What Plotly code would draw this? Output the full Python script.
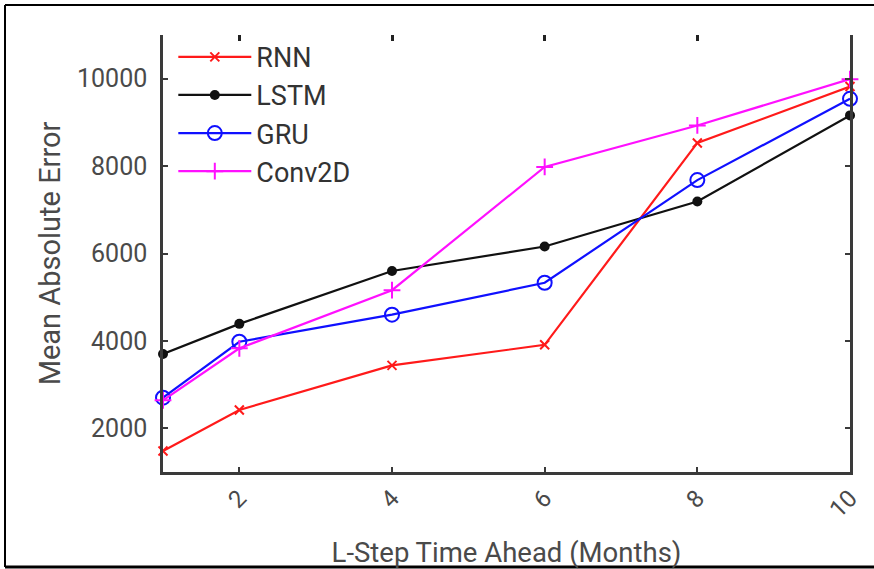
import plotly.graph_objects as go

steps = [1, 2, 4, 6, 8, 10]
rnn = [1480, 2420, 3440, 3910, 8530, 9820]
lstm = [3700, 4390, 5600, 6160, 7190, 9160]
gru = [2700, 3980, 4600, 5330, 7680, 9540]
conv2d = [2640, 3830, 5160, 7980, 8930, 9990]

x_ticks = [2, 4, 6, 8, 10]
top_ticks = [2, 4, 6, 8]
y_ticks = [2000, 4000, 6000, 8000, 10000]

FONT = "Roboto"
TXT = "#4a4a4a"
AX = "#3a3a3a"

fig = go.Figure()
series = [
    ("RNN", rnn, "#ff1a1a", dict(symbol="x-thin", size=9, line=dict(width=2, color="#ff1a1a"))),
    ("LSTM", lstm, "#111111", dict(symbol="circle", size=10, color="#111111")),
    ("GRU", gru, "#1010ff", dict(symbol="circle-open", size=14, line=dict(width=2, color="#1010ff"))),
    ("Conv2D", conv2d, "#ff10ff", dict(symbol="cross-thin", size=12, line=dict(width=2, color="#ff10ff"))),
]
for name, vals, col, mk in series:
    fig.add_trace(go.Scatter(
        x=steps, y=vals, name=name, mode="lines+markers",
        line=dict(color=col, width=2.2), marker=mk, cliponaxis=False,
    ))

# invisible trace so the top (mirror-tick) axis is drawn
fig.add_trace(go.Scatter(x=steps, y=rnn, xaxis="x2", opacity=0,
                         showlegend=False, hoverinfo="skip", mode="lines"))

fig.update_layout(
    width=874, height=569,
    margin=dict(l=163, r=24, t=35, b=97),
    paper_bgcolor="white", plot_bgcolor="white",
    font=dict(family=FONT, size=25, color=TXT),
    showlegend=True,
    legend=dict(
        x=0.015, y=1.005, xanchor="left", yanchor="top",
        bgcolor="rgba(255,255,255,0)", borderwidth=0,
        font=dict(family=FONT, size=27, color="#333333"),
        itemwidth=73, tracegroupgap=0,
    ),
    xaxis=dict(
        range=[1, 10], tickvals=x_ticks, ticktext=[str(v) for v in x_ticks],
        tickangle=-45, showgrid=False, zeroline=False,
        showline=True, linecolor=AX, linewidth=2.5,
        ticks="inside", ticklen=5, tickwidth=2, tickcolor=AX,
        tickfont=dict(size=24, color=TXT), automargin=False,
        title=dict(text="L-Step Time Ahead (Months)", font=dict(size=27.5, color=TXT), standoff=30),
    ),
    xaxis2=dict(
        range=[1, 10], overlaying="x", side="top", tickvals=top_ticks,
        showticklabels=False, showline=False, showgrid=False, zeroline=False,
        ticks="inside", ticklen=6, tickwidth=2.5, tickcolor="#222222",
    ),
    yaxis=dict(
        range=[1000, 11000], tickvals=y_ticks, ticktext=[str(v) for v in y_ticks],
        showgrid=False, zeroline=False,
        showline=True, linecolor=AX, linewidth=2.5, mirror="ticks",
        ticks="inside", ticklen=5, tickwidth=2, tickcolor=AX,
        tickfont=dict(size=25, color=TXT), ticklabelstandoff=8, automargin=False,
        title=dict(text="Mean Absolute Error", font=dict(size=29, color=TXT), standoff=8),
    ),
)

# outer frame of the figure image
W, H = 687.0, 437.0
def px(xp):
    return (xp - 163) / W
def py(yp):
    return (472 - yp) / H
fig.add_shape(type="line", xref="paper", yref="paper", x0=px(5), x1=px(874), y0=py(5), y1=py(5),
              line=dict(color="black", width=2))
fig.add_shape(type="line", xref="paper", yref="paper", x0=px(5), x1=px(5), y0=py(5), y1=py(567),
              line=dict(color="black", width=2))
fig.add_shape(type="line", xref="paper", yref="paper", x0=px(5), x1=px(874), y0=py(567), y1=py(567),
              line=dict(color="black", width=3))

fig.write_html("out.html", config={"displayModeBar": False},
               post_script="document.body.style.margin='0';")
